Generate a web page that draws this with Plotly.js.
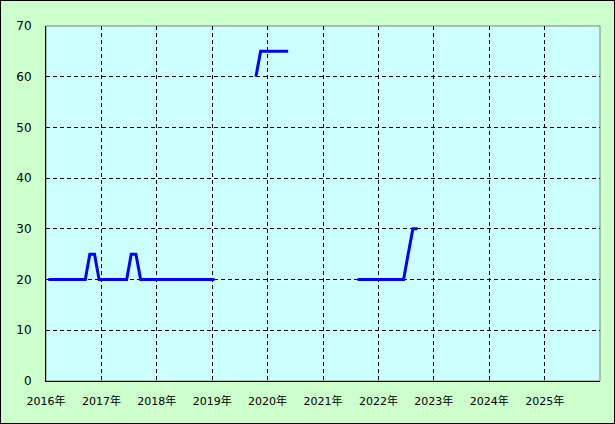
<!DOCTYPE html>
<html>
<head>
<meta charset="utf-8">
<script src="https://cdn.plot.ly/plotly-3.0.1.min.js"></script>
<style>
html,body{margin:0;padding:0;background:#ccffcc;}
#wrap{position:relative;width:615px;height:424px;}
#chart{width:615px;height:424px;}
#frame{position:absolute;left:0;top:0;width:613px;height:422px;border:1px solid #000;pointer-events:none;}
</style>
</head>
<body>
<div id="wrap"><div id="chart"></div><div id="frame"></div></div>
<script>
// Segment 1: 2016-01 .. 2019-01
const monthsA = ["2016-01","2016-02","2016-03","2016-04","2016-05","2016-06","2016-07","2016-08","2016-09","2016-10","2016-11","2016-12",
  "2017-01","2017-02","2017-03","2017-04","2017-05","2017-06","2017-07","2017-08","2017-09","2017-10","2017-11","2017-12",
  "2018-01","2018-02","2018-03","2018-04","2018-05","2018-06","2018-07","2018-08","2018-09","2018-10","2018-11","2018-12",
  "2019-01"];
const valuesA = [20,20,20,20,20,20,20,20,20,25,25,20,
  20,20,20,20,20,20,25,25,20,20,20,20,
  20,20,20,20,20,20,20,20,20,20,20,20,
  20];
// Segment 2: 2019-10 .. 2020-05
const monthsB = ["2019-10","2019-11","2019-12","2020-01","2020-02","2020-03","2020-04","2020-05"];
const valuesB = [60,65,65,65,65,65,65,65];
// Segment 3: 2021-08 .. 2022-09
const monthsC = ["2021-08","2021-09","2021-10","2021-11","2021-12","2022-01","2022-02","2022-03","2022-04","2022-05","2022-06","2022-07","2022-08","2022-09"];
const valuesC = [20,20,20,20,20,20,20,20,20,20,20,25,30,30];

const yearTicks = ["2016","2017","2018","2019","2020","2021","2022","2023","2024","2025"];
const yearLabels = yearTicks.map(y => y + "年");

const mid = m => m + "-16";
const lineStyle = {color: "#0000ff", width: 3};
const traces = [[monthsA, valuesA], [monthsB, valuesB], [monthsC, valuesC]].map(([m, v]) => ({
  x: m.map(mid), y: v, type: "scatter", mode: "lines", line: lineStyle, hoverinfo: "skip", showlegend: false
}));

const fam = "'DejaVu Sans', 'Noto Sans CJK JP', sans-serif";
const layout = {
  width: 615, height: 424,
  margin: {l: 46, r: 15, t: 26, b: 43, pad: 0},
  paper_bgcolor: "#ccffcc",
  plot_bgcolor: "#ccffff",
  font: {family: fam, size: 12, color: "#000"},
  showlegend: false,
  xaxis: {
    type: "date",
    range: ["2016-01-01", "2026-01-01"],
    tickvals: yearTicks.map(y => y + "-01-01"),
    ticktext: yearLabels,
    showgrid: true, gridcolor: "#000", griddash: "4px,3px", gridwidth: 1,
    showline: true, linecolor: "#000", linewidth: 1,
    ticks: "outside", ticklen: 10, tickcolor: "rgba(0,0,0,0)",
    zeroline: false, tickfont: {family: fam, size: 11, color: "#000"}, fixedrange: true
  },
  yaxis: {
    range: [0, 70],
    tickvals: [0,10,20,30,40,50,60,70],
    showgrid: true, gridcolor: "#000", griddash: "4px,3px", gridwidth: 1,
    showline: true, linecolor: "#000", linewidth: 1,
    ticks: "outside", ticklen: 11, tickcolor: "rgba(0,0,0,0)",
    zeroline: false, tickfont: {family: fam, size: 12, color: "#000"}, fixedrange: true
  },
  shapes: [{type: "rect", xref: "paper", yref: "paper", x0: 0, x1: 1, y0: 0, y1: 1,
    line: {color: "#808080", width: 1}, layer: "below"}]
};
Plotly.newPlot("chart", traces, layout, {staticPlot: true, displayModeBar: false});
</script>
</body>
</html>
